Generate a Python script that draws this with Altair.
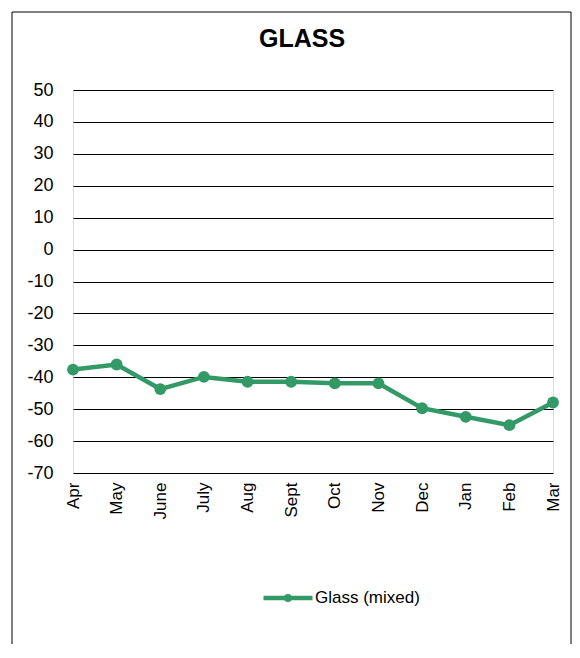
import altair as alt
import pandas as pd

months = ["Apr", "May", "June", "July", "Aug", "Sept", "Oct", "Nov", "Dec", "Jan", "Feb", "Mar"]
values = [-37.6, -36.0, -43.7, -39.9, -41.4, -41.4, -41.9, -41.9, -49.7, -52.4, -55.0, -47.9]
series_name = "Glass (mixed)"
y_ticks = [-70, -60, -50, -40, -30, -20, -10, 0, 10, 20, 30, 40, 50]
title_text = "GLASS"

df = pd.DataFrame({"month": months, "value": values, "series": [series_name] * len(months)})
frame_df = pd.DataFrame({"k": [0]})

GREEN = "#339966"
FONT = "Liberation Sans"
LEGEND_PATH = "M-1,0 L1,0 M-0.07,0 A0.07,0.07 0 1,1 0.07,0 A0.07,0.07 0 1,1 -0.07,0 Z"

x = alt.X(
    "month:N", sort=months,
    scale=alt.Scale(type="point", padding=0),
    axis=alt.Axis(title=None, labelAngle=-90, labelFontSize=17, labelPadding=9,
                  domain=False, ticks=False, grid=False, labelColor="black", labelFont=FONT),
)
y = alt.Y(
    "value:Q",
    scale=alt.Scale(domain=[-70, 50], nice=False, zero=False),
    axis=alt.Axis(title=None, values=y_ticks, labelExpr="datum.value + ''",
                  labelFontSize=18, labelPadding=20,
                  domain=False, ticks=False, grid=True, gridColor="black", gridWidth=1.2,
                  gridOpacity=1, labelColor="black", labelFont=FONT),
)
color = alt.Color(
    "series:N",
    scale=alt.Scale(range=[GREEN]),
    legend=alt.Legend(title=None, orient="none", legendX=188, legendY=481,
                      symbolType=LEGEND_PATH, symbolSize=2401, symbolStrokeWidth=4.5,
                      symbolStrokeColor=GREEN, symbolFillColor=GREEN,
                      labelFontSize=17, labelFont=FONT, labelColor="black",
                      labelOffset=0, padding=0),
)

frame = alt.Chart(frame_df).mark_rect(fill="transparent", stroke="black", strokeWidth=1).encode(
    x=alt.value(-61), x2=alt.value(498), y=alt.value(-78), y2=alt.value(600)
)
line = alt.Chart(df).mark_line(strokeWidth=4.5).encode(x=x, y=y, color=color)
points = alt.Chart(df).mark_circle(size=140, opacity=1).encode(x=x, y=y, color=color)

chart = alt.layer(frame, line, points).properties(
    width=480, height=383,
    autosize="none",
    padding={"left": 65, "top": 82, "right": 19, "bottom": 171},
    title=alt.TitleParams(title_text, fontSize=25, fontWeight="bold", font=FONT, color="black",
                          anchor="middle", frame="group", dx=-11, offset=-60.5,
                          baseline="alphabetic"),
).configure_view(stroke=None).configure(background="white")

chart.save("out.html", embed_options={"renderer": "svg", "actions": False})
